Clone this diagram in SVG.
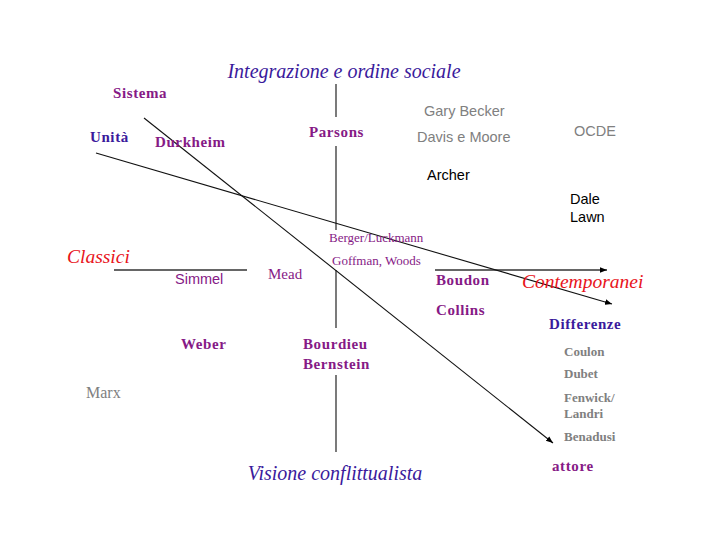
<svg xmlns="http://www.w3.org/2000/svg" width="720" height="540" viewBox="0 0 720 540">
<defs>
<marker id="ah" viewBox="0 0 10 10" refX="10" refY="5" markerWidth="7" markerHeight="7" orient="auto" markerUnits="userSpaceOnUse"><path d="M0,1 L10,5 L0,9 z" fill="#000"/></marker>
</defs>
<style>
.ser{font-family:"Liberation Serif","Times New Roman",serif}
.san{font-family:"Liberation Sans",Arial,sans-serif}
.b{font-weight:bold;font-size:15px;letter-spacing:0.6px}
.sm{font-weight:bold;font-size:13px}
.it{font-style:italic}
.pur{fill:#861a86}
.blu{fill:#3a1a9c}
.red{fill:#e8141c}
.gry{fill:#808080}
.blk{fill:#000}
.ax{stroke:#333;stroke-width:1.3;fill:none}
.dg{stroke:#111;stroke-width:1.1;fill:none}
</style>
<rect width="720" height="540" fill="#fff"/>
<g id="connectors">
<line class="ax" x1="336" y1="84" x2="336" y2="117"/>
<line class="ax" x1="336" y1="146" x2="336" y2="230"/>
<line class="ax" x1="336" y1="270" x2="336" y2="328"/>
<line class="ax" x1="336" y1="375" x2="336" y2="452"/>
<line class="ax" x1="114" y1="270" x2="247" y2="270"/>
<line class="ax" x1="435" y1="270" x2="607" y2="270" marker-end="url(#ah)"/>
<line class="dg" x1="144" y1="118" x2="553" y2="443" marker-end="url(#ah)"/>
<line class="dg" x1="96" y1="153" x2="612" y2="304" marker-end="url(#ah)"/>
</g>
<g id="n-integrazione"><text class="ser it blu" x="344" y="78" font-size="20" text-anchor="middle">Integrazione e ordine sociale</text></g>
<g id="n-sistema"><text class="ser b pur" x="113" y="98">Sistema</text></g>
<g id="n-unita"><text class="ser b blu" x="90" y="142">Unità</text></g>
<g id="n-durkheim"><text class="ser b pur" x="155" y="147">Durkheim</text></g>
<g id="n-parsons"><text class="ser b pur" x="309" y="137">Parsons</text></g>
<g id="n-becker"><text class="san gry" x="424" y="116" font-size="14.5">Gary Becker</text></g>
<g id="n-davis"><text class="san gry" x="417" y="142" font-size="14.5">Davis e Moore</text></g>
<g id="n-ocde"><text class="san gry" x="574" y="136" font-size="14.5">OCDE</text></g>
<g id="n-archer"><text class="san blk" x="427" y="180" font-size="14.5">Archer</text></g>
<g id="n-dale"><text class="san blk" x="570" y="204" font-size="14.5">Dale</text><text class="san blk" x="570" y="222" font-size="14.5">Lawn</text></g>
<g id="n-berger"><text class="ser pur" x="329" y="242" font-size="13">Berger/Luckmann</text></g>
<g id="n-goffman"><text class="ser pur" x="332" y="265" font-size="13">Goffman, Woods</text></g>
<g id="n-classici"><text class="ser it red" x="67" y="263" font-size="19.5">Classici</text></g>
<g id="n-simmel"><text class="san pur" x="175" y="284" font-size="14.5">Simmel</text></g>
<g id="n-mead"><text class="ser pur" x="268" y="279" font-size="15">Mead</text></g>
<g id="n-boudon"><text class="ser b pur" x="436" y="285">Boudon</text></g>
<g id="n-contemporanei"><text class="ser it red" x="522" y="288" font-size="19.5">Contemporanei</text></g>
<g id="n-collins"><text class="ser b pur" x="436" y="315">Collins</text></g>
<g id="n-differenze"><text class="ser b blu" x="549" y="329">Differenze</text></g>
<g id="n-weber"><text class="ser b pur" x="181" y="349">Weber</text></g>
<g id="n-bourdieu"><text class="ser b pur" x="303" y="349">Bourdieu</text><text class="ser b pur" x="303" y="369">Bernstein</text></g>
<g id="n-coulon"><text class="ser sm gry" x="564" y="356">Coulon</text></g>
<g id="n-dubet"><text class="ser sm gry" x="564" y="378">Dubet</text></g>
<g id="n-fenwick"><text class="ser sm gry" x="564" y="402">Fenwick/</text><text class="ser sm gry" x="564" y="418">Landri</text></g>
<g id="n-benadusi"><text class="ser sm gry" x="564" y="441">Benadusi</text></g>
<g id="n-attore"><text class="ser b pur" x="552" y="471">attore</text></g>
<g id="n-marx"><text class="ser gry" x="86" y="398" font-size="16">Marx</text></g>
<g id="n-visione"><text class="ser it blu" x="335" y="480" font-size="20" text-anchor="middle">Visione conflittualista</text></g>
</svg>
